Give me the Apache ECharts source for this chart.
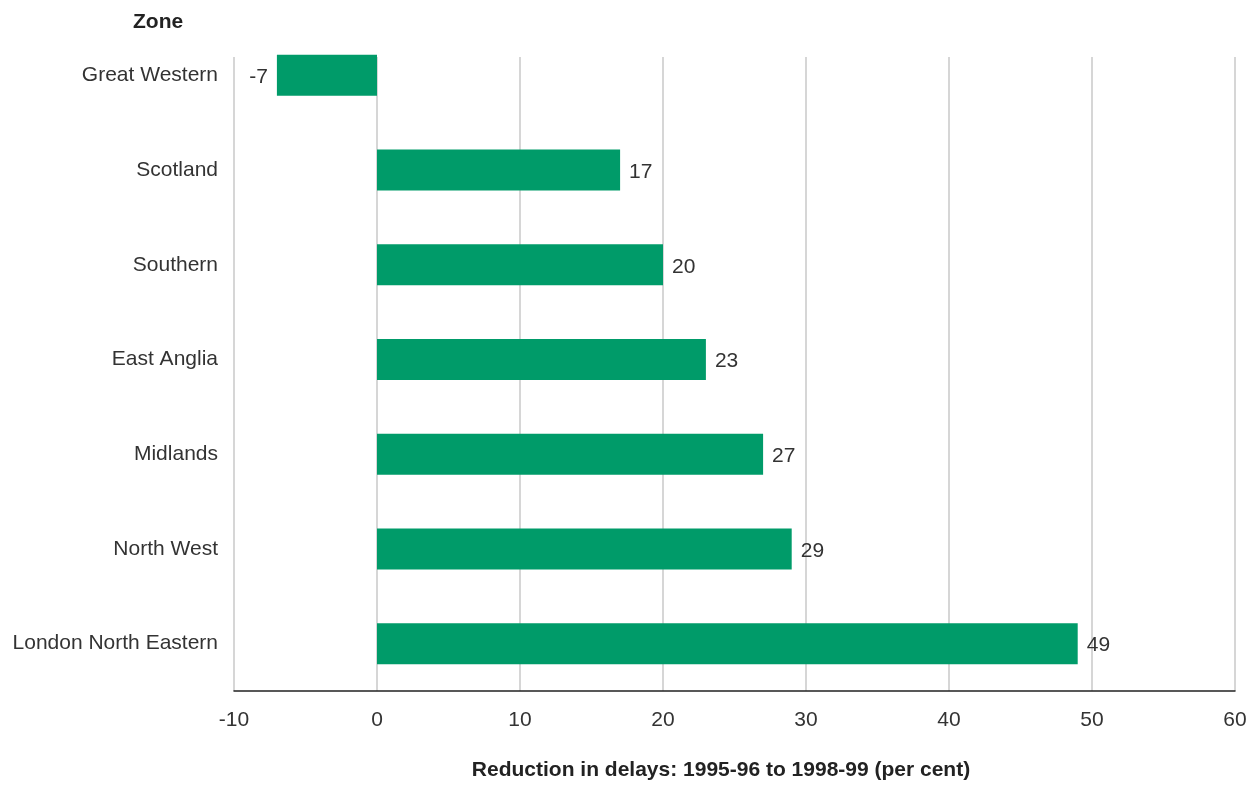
<!DOCTYPE html>
<html>
<head>
<meta charset="utf-8">
<script src="https://cdn.jsdelivr.net/npm/echarts@6/dist/echarts.min.js"></script>
<style>
  html, body { margin: 0; padding: 0; background: #fff; }
  #chart { width: 1257px; height: 807px; }
</style>
</head>
<body>
<div id="chart"></div>
<script>
// Railway zones, listed top to bottom
const zones = ['Great Western', 'Scotland', 'Southern', 'East Anglia', 'Midlands', 'North West', 'London North Eastern'];
// Reduction in delays, 1995-96 to 1998-99 (per cent)
const reductions = [-7, 17, 20, 23, 27, 29, 49];
// Horizontal axis range and step
const xMin = -10, xMax = 60, xStep = 10;

const FONT = '"Liberation Sans", Arial, Helvetica, sans-serif';
const TEXT = '#333333';
const GREEN = '#009b69';
const SIZE = 21;

const chart = echarts.init(document.getElementById('chart'));
chart.setOption({
  animation: false,
  textStyle: { fontFamily: FONT },
  title: {
    text: 'Zone',
    left: 128, top: 7,
    textStyle: { fontFamily: FONT, fontSize: SIZE, fontWeight: 'bold', color: '#222' }
  },
  grid: [
    // bars
    { left: 234, right: 22, top: 28, bottom: 116, containLabel: false },
    // vertical gridlines
    { left: 234, right: 22, top: 57, bottom: 116, containLabel: false }
  ],
  xAxis: [
    {
      gridIndex: 0, type: 'value', min: xMin, max: xMax, interval: xStep,
      axisLine: { show: true, onZero: false, lineStyle: { color: '#222', width: 1.5 } },
      axisTick: { show: false },
      splitLine: { show: false },
      axisLabel: { color: TEXT, fontSize: SIZE, margin: 19, fontFamily: FONT },
      name: 'Reduction in delays: 1995-96 to 1998-99 (per cent)',
      nameLocation: 'middle', nameGap: 69,
      nameTextStyle: {
        fontFamily: FONT, fontSize: SIZE, fontWeight: 'bold', color: '#222',
        padding: [0, 27, 0, 0]
      }
    },
    {
      gridIndex: 1, type: 'value', min: xMin, max: xMax, interval: xStep,
      axisLine: { show: false }, axisTick: { show: false }, axisLabel: { show: false },
      splitLine: { show: true, lineStyle: { color: '#c8c8c8', width: 1.5 } }
    }
  ],
  yAxis: [
    {
      gridIndex: 0, type: 'category', data: zones, inverse: true,
      axisLine: { show: false }, axisTick: { show: false },
      axisLabel: { color: TEXT, fontSize: SIZE, margin: 16, fontFamily: FONT }
    },
    {
      gridIndex: 1, type: 'category', data: zones, show: false
    }
  ],
  series: [
    {
      type: 'bar', xAxisIndex: 0, yAxisIndex: 0,
      data: reductions.map(v => ({
        value: v,
        label: { position: v < 0 ? 'left' : 'right' }
      })),
      barWidth: 41,
      itemStyle: { color: GREEN },
      z: 3,
      label: {
        show: true,
        distance: 9,
        offset: [0, 2],
        color: TEXT,
        fontSize: SIZE,
        fontFamily: FONT,
        formatter: p => String(p.value)
      }
    }
  ]
});
</script>
</body>
</html>
